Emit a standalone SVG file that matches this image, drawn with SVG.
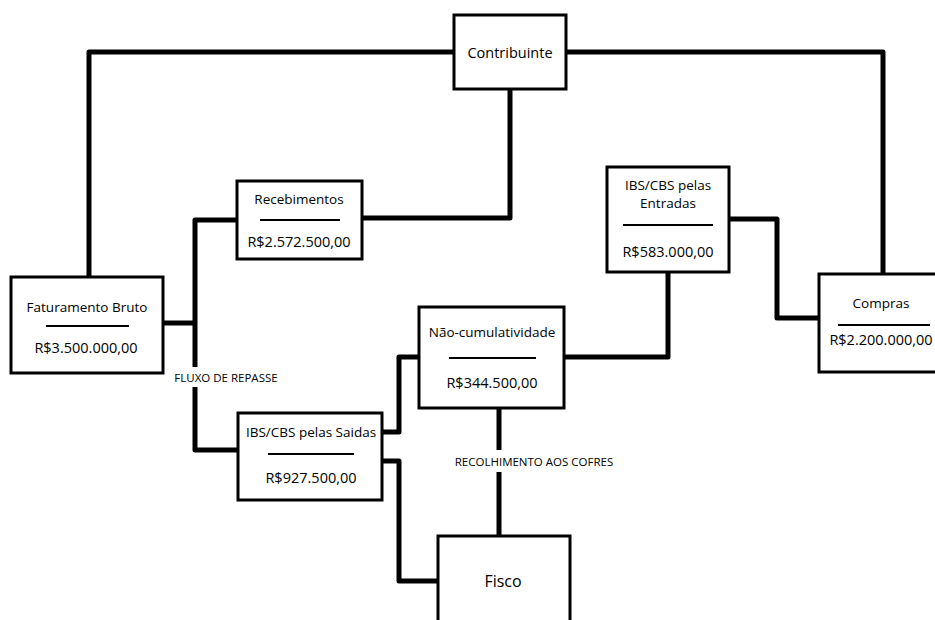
<svg xmlns="http://www.w3.org/2000/svg" width="935" height="620" viewBox="0 0 935 620">
<style>
.box{fill:#fff;stroke:#000;stroke-width:3}
.sep{stroke:#000;stroke-width:2}
.t{font-family:"Open Sans","Noto Sans","DejaVu Sans",sans-serif;font-size:13.5px;fill:#000;text-anchor:middle}
.v{font-family:"Open Sans","Noto Sans","DejaVu Sans",sans-serif;font-size:14.5px;fill:#000;text-anchor:middle}
.lbl{font-family:"Open Sans","Noto Sans","DejaVu Sans",sans-serif;font-size:11.5px;fill:#000;text-anchor:middle}
.c{fill:none;stroke:#000;stroke-width:5;stroke-linejoin:round;stroke-linecap:butt}
</style>
<rect width="935" height="620" fill="#fff"/>
<g id="connectors">
<path class="c" d="M454 52 H89 V277"/>
<path class="c" d="M566 52 H883 V274"/>
<path class="c" d="M510 88 V218 H362"/>
<path class="c" d="M237 220 H195 V450 H238"/>
<path class="c" d="M163 323 H195"/>
<path class="c" d="M729 219 H777 V318 H819"/>
<path class="c" d="M668 272 V357 H564"/>
<path class="c" d="M419 357 H399 V432 H382"/>
<path class="c" d="M382 461 H399 V581 H438"/>
<path class="c" d="M499 408 V536"/>
<rect x="173" y="367" width="107" height="20" fill="#fff"/>
<text class="lbl" x="226" y="382">FLUXO DE REPASSE</text>
<rect x="451" y="450" width="166" height="22" fill="#fff"/>
<text class="lbl" x="534" y="466">RECOLHIMENTO AOS COFRES</text>
</g>
<g id="contribuinte">
<rect class="box" x="454" y="15" width="112" height="74"/>
<text class="t" x="510" y="58" style="font-size:14.5px">Contribuinte</text>
</g>
<g id="faturamento">
<rect class="box" x="11" y="277" width="152" height="96"/>
<text class="t" x="87" y="312">Faturamento Bruto</text>
<line class="sep" x1="46" y1="326" x2="129" y2="326"/>
<text class="v" x="86" y="353">R$3.500.000,00</text>
</g>
<g id="recebimentos">
<rect class="box" x="237" y="181" width="125" height="78"/>
<text class="t" x="299" y="204">Recebimentos</text>
<line class="sep" x1="260" y1="220" x2="340" y2="220"/>
<text class="v" x="299" y="247">R$2.572.500,00</text>
</g>
<g id="entradas">
<rect class="box" x="607" y="167" width="122" height="105"/>
<text class="t" x="668" y="190">IBS/CBS pelas</text>
<text class="t" x="668" y="208">Entradas</text>
<line class="sep" x1="623" y1="225" x2="713" y2="225"/>
<text class="v" x="668" y="257">R$583.000,00</text>
</g>
<g id="compras">
<rect class="box" x="819" y="274" width="130" height="98"/>
<text class="t" x="881" y="308">Compras</text>
<line class="sep" x1="838" y1="325" x2="930" y2="325"/>
<text class="v" x="881" y="345">R$2.200.000,00</text>
</g>
<g id="naocumulatividade">
<rect class="box" x="419" y="307" width="145" height="101"/>
<text class="t" x="492" y="337">Não-cumulatividade</text>
<line class="sep" x1="449" y1="358" x2="536" y2="358"/>
<text class="v" x="492" y="388">R$344.500,00</text>
</g>
<g id="saidas">
<rect class="box" x="238" y="413" width="144" height="87"/>
<text class="t" x="311" y="437">IBS/CBS pelas Saidas</text>
<line class="sep" x1="268" y1="454" x2="354" y2="454"/>
<text class="v" x="311" y="483">R$927.500,00</text>
</g>
<g id="fisco">
<rect class="box" x="438" y="536" width="132" height="90"/>
<text class="t" x="503" y="587" style="font-size:16px">Fisco</text>
</g>
</svg>
